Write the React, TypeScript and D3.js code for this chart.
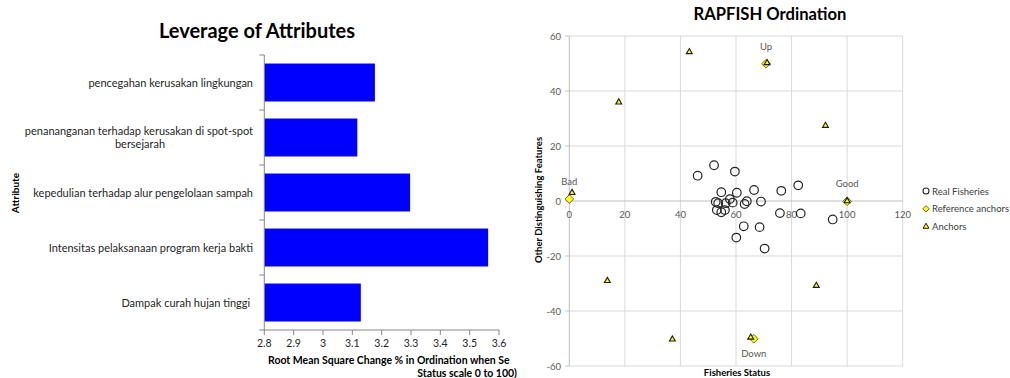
import React from 'react';
import * as d3 from 'd3';

// Leverage of attributes (left chart)
const attributes = [
  'pencegahan kerusakan lingkungan',
  'penananganan terhadap kerusakan di spot-spot\nbersejarah',
  'kepedulian terhadap alur pengelolaan sampah',
  'Intensitas pelaksanaan program kerja bakti',
  'Dampak curah hujan tinggi ',
];
const rmsValues = [3.177, 3.117, 3.297, 3.563, 3.129];
const levTicks = [2.8, 2.9, 3, 3.1, 3.2, 3.3, 3.4, 3.5, 3.6];

// RAPFISH ordination (right chart)
const realFisheries: [number, number][] = [
  [46.2, 9.2], [52.1, 13.0], [59.6, 10.7], [54.7, 3.2], [60.3, 3.0], [66.5, 4.0],
  [76.3, 3.7], [82.4, 5.7], [57.8, 0.7], [52.7, -0.3], [53.6, -0.8], [56.3, -0.8],
  [58.8, -0.6], [63.9, -0.1], [63.1, -1.1], [69.0, -0.2], [53.1, -3.3], [54.7, -4.1],
  [56.0, -3.3], [75.8, -4.4], [83.3, -4.5], [94.8, -6.7], [62.8, -9.2], [68.5, -9.5],
  [60.1, -13.3], [70.3, -17.3],
];
const referenceAnchors: [number, number][] = [[0, 0.7], [100, -0.1], [70.8, 49.9], [66.4, -50.1]];
const anchors: [number, number][] = [
  [43.2, 54.2], [17.8, 35.9], [92.2, 27.4], [1.0, 3.0], [13.7, -29.0], [88.9, -30.8],
  [37.1, -50.3], [65.3, -49.6], [71.2, 50.2], [100, 0],
];
const refLabels = [
  { text: 'Bad', x: 0, y: 6 },
  { text: 'Good', x: 100, y: 5.2 },
  { text: 'Up', x: 70.8, y: 55 },
  { text: 'Down', x: 66.4, y: -56.6 },
];
const ordXTicks = [0, 20, 40, 60, 80, 100, 120];
const ordYTicks = [-60, -40, -20, 0, 20, 40, 60];
const legendItems = ['Real Fisheries', 'Reference anchors', 'Anchors'];

const FONT = 'Lato, "Open Sans", sans-serif';
const AXIS = '#868686';
const GRID = '#d9d9d9';
const LABEL = '#595959';

const diamond = d3.symbol().type(d3.symbolDiamond2).size(48)()!;
const smallDiamond = d3.symbol().type(d3.symbolDiamond2).size(26)()!;
const triangle = d3.symbol().type(d3.symbolTriangle).size(15)()!;

const App: React.FC = () => {
  // left chart scales
  const xL = d3.scaleLinear().domain([2.8, 3.6]).range([264.3, 499]);
  const yL = d3.scaleBand<string>().domain(attributes).range([55, 330]).paddingInner(0.31).paddingOuter(0.155);
  const step = yL.step();

  // right chart scales
  const xR = d3.scaleLinear().domain([0, 120]).range([569.3, 902.7]);
  const yR = d3.scaleLinear().domain([-60, 60]).range([366, 36]);

  return (
    <svg width={1010} height={378} style={{ position: 'absolute', left: 0, top: 0, display: 'block' }} fontFamily={FONT}>
      <rect width={1010} height={378} fill="#fff" />

      {/* ---------- Leverage of Attributes ---------- */}
      <text x={257} y={38} textAnchor="middle" fontSize={20} fontWeight="bold" fill="#000">Leverage of Attributes</text>

      {attributes.map((a, i) => (
        <rect key={a} x={xL(2.8)} y={yL(a)!} width={xL(rmsValues[i]) - xL(2.8)} height={yL.bandwidth()} fill="#0000ff" />
      ))}

      {/* y axis */}
      <line x1={xL(2.8)} x2={xL(2.8)} y1={55} y2={330} stroke={AXIS} />
      {d3.range(attributes.length + 1).map(i => (
        <line key={i} x1={xL(2.8) - 5} x2={xL(2.8)} y1={55 + i * step} y2={55 + i * step} stroke={AXIS} />
      ))}
      {attributes.map(a => {
        const lines = a.split('\n');
        const cy = yL(a)! + yL.bandwidth() / 2;
        if (lines.length === 1) {
          return (
            <text key={a} x={253} y={cy + 4} textAnchor="end" fontSize={11} fill="#262626" style={{ whiteSpace: 'pre' }}>{a}</text>
          );
        }
        return (
          <g key={a}>
            <text x={253} y={cy - 2.8} textAnchor="end" fontSize={11} fill="#262626">{lines[0]}</text>
            <text x={140} y={cy + 10.8} textAnchor="middle" fontSize={11} fill="#262626">{lines[1]}</text>
          </g>
        );
      })}
      <text transform="translate(19,193) rotate(-90)" textAnchor="middle" fontSize={10} fontWeight="bold" fill="#000">Attribute</text>

      {/* x axis */}
      <line x1={xL(2.8)} x2={xL(3.6)} y1={330} y2={330} stroke={AXIS} />
      {levTicks.map(t => (
        <g key={t}>
          <line x1={xL(t)} x2={xL(t)} y1={330} y2={335} stroke={AXIS} />
          <text x={xL(t)} y={347} textAnchor="middle" fontSize={10.5} fill="#262626">{d3.format('')(t)}</text>
        </g>
      ))}
      <text x={268} y={364} fontSize={10.5} fontWeight="bold" fill="#000">Root Mean Square Change % in Ordination when Se</text>
      <text x={517} y={377} textAnchor="end" fontSize={10.5} fontWeight="bold" fill="#000">Status scale 0 to 100)</text>

      {/* ---------- RAPFISH Ordination ---------- */}
      <text x={770} y={20} textAnchor="middle" fontSize={16.6} fontWeight="bold" fill="#000">RAPFISH Ordination</text>

      {ordXTicks.filter(t => t !== 0).map(t => (
        <line key={'gx' + t} x1={xR(t)} x2={xR(t)} y1={yR(60)} y2={yR(-60)} stroke={GRID} />
      ))}
      {ordYTicks.filter(t => t !== 0).map(t => (
        <line key={'gy' + t} x1={xR(0)} x2={xR(120)} y1={yR(t)} y2={yR(t)} stroke={GRID} />
      ))}
      <line x1={xR(0)} x2={xR(0)} y1={yR(60)} y2={yR(-60)} stroke="#bfbfbf" />
      <line x1={xR(0)} x2={xR(120)} y1={yR(0)} y2={yR(0)} stroke="#bfbfbf" />
      {ordYTicks.map(t => (
        <line key={'ty' + t} x1={xR(0) - 4} x2={xR(0)} y1={yR(t)} y2={yR(t)} stroke="#bfbfbf" />
      ))}

      {ordXTicks.map(t => (
        <text key={'lx' + t} x={xR(t)} y={yR(0) + 17} textAnchor="middle" fontSize={9.5} fill={LABEL}>{t}</text>
      ))}
      {ordYTicks.map(t => (
        <text key={'ly' + t} x={561} y={yR(t) + 3.5} textAnchor="end" fontSize={9.5} fill={LABEL}>{t}</text>
      ))}

      <text x={737} y={376} textAnchor="middle" fontSize={9.5} fontWeight="bold" fill="#000">Fisheries Status</text>
      <text transform="translate(542,200) rotate(-90)" textAnchor="middle" fontSize={9.5} fontWeight="bold" fill="#000">Other Distinguishing Features</text>

      {realFisheries.map(([x, y], i) => (
        <circle key={'rf' + i} cx={xR(x)} cy={yR(y)} r={4.3} fill="none" stroke="#262626" strokeWidth={1.2} />
      ))}
      {referenceAnchors.map(([x, y], i) => (
        <path key={'ra' + i} d={diamond} transform={`translate(${xR(x)},${yR(y)})`} fill="#ffff00" stroke="#404040" strokeWidth={0.8} />
      ))}
      {anchors.map(([x, y], i) => (
        <path key={'an' + i} d={triangle} transform={`translate(${xR(x)},${yR(y)})`} fill="#ffff00" stroke="#1a1a1a" strokeWidth={1.1} />
      ))}
      {refLabels.map(l => (
        <text key={l.text} x={xR(l.x)} y={yR(l.y)} textAnchor="middle" fontSize={9.5} fill={LABEL}>{l.text}</text>
      ))}

      {/* legend */}
      {legendItems.map((item, i) => {
        const ly = 191 + i * 17.8;
        return (
          <g key={item} transform={`translate(926,${ly})`}>
            {i === 0 && <circle r={3} fill="#fff" stroke="#262626" strokeWidth={1.1} />}
            {i === 1 && <path d={smallDiamond} fill="#ffff00" stroke="#404040" strokeWidth={0.8} />}
            {i === 2 && <path d={triangle} fill="#ffff00" stroke="#1a1a1a" strokeWidth={1} />}
            <text x={6} y={3.5} fontSize={9.5} fill="#404040">{item}</text>
          </g>
        );
      })}
    </svg>
  );
};

export default App;
